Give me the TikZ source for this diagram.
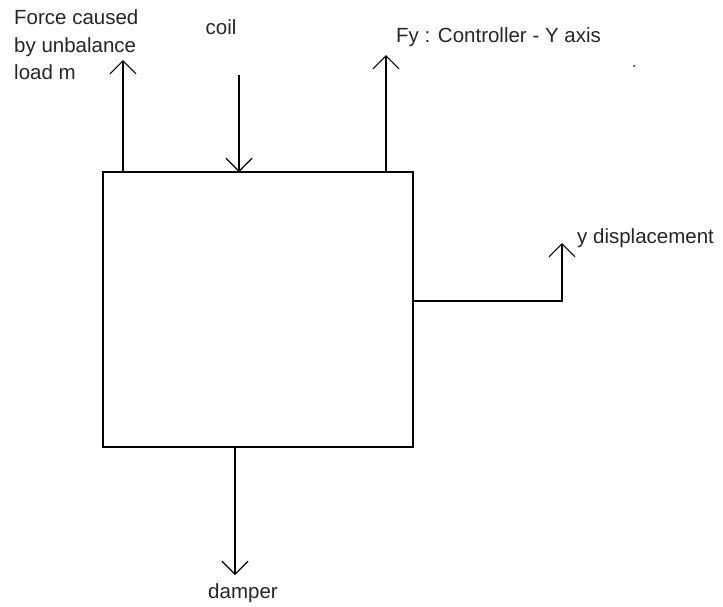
\documentclass[tikz,border=0pt]{standalone}
\usepackage{fontspec}
\setmainfont{Liberation Sans}
\usetikzlibrary{arrows.meta}
\begin{document}
\begin{tikzpicture}[x=1pt,y=-1pt,
  wire/.style={line width=1.3pt,draw=black},
  arr/.style={wire,-{Straight Barb[length=13pt,width=26pt,line width=1.2pt]}},
  lbl/.style={font=\fontsize{20.5}{27.5}\selectfont,text=black!85,inner sep=0pt}]
\useasboundingbox (0,0) rectangle (723,606);
\node[wire,draw,minimum width=310pt,minimum height=275pt,inner sep=0pt] (box) at (258,309.5) {};
% force caused by unbalance
\coordinate (f0) at (123,172);
\coordinate (f1) at (123,60);
\draw[arr] (f0) -- (f1);
\node[lbl,align=left,anchor=west] (force) at (14,45) {Force caused\\by unbalance\\load m};
% coil
\coordinate (c0) at (239,75);
\coordinate (c1) at (239,172);
\draw[arr] (c0) -- (c1);
\node[lbl] (coil) at (221,27) {coil};
% Fy
\coordinate (y0) at (386,172);
\coordinate (y1) at (386,55);
\draw[arr] (y0) -- (y1);
\node[lbl,anchor=west] (fy) at (396,37) {Fy : Controller - Y axis};
\fill (634,66) circle (1pt);
% y displacement
\coordinate (d0) at (413,301);
\coordinate (dc) at (562,301);
\coordinate (d1) at (562,243);
\draw[arr] (d0) -- (dc) -- (d1);
\node[lbl,anchor=west] (ydisp) at (577,238) {y displacement};
% damper
\coordinate (m0) at (235,447);
\coordinate (m1) at (235,575);
\draw[arr] (m0) -- (m1);
\node[lbl] (damper) at (243,593) {damper};
\end{tikzpicture}
\end{document}
